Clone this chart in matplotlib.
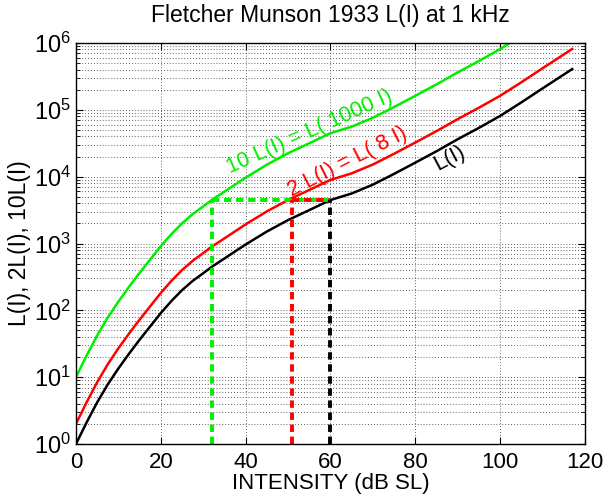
import matplotlib
matplotlib.use('Agg')
import matplotlib.pyplot as plt
import numpy as np

plt.rcParams['font.family'] = ['Liberation Sans', 'DejaVu Sans']
plt.rcParams['mathtext.fontset'] = 'custom'
plt.rcParams['mathtext.rm'] = 'Liberation Sans'
plt.rcParams['mathtext.it'] = 'Liberation Sans:italic'

# intensity (dB SL) and loudness L(I)
intensity = [0, 2.5, 5, 7.5, 10, 12.5, 15, 17.5, 20, 22.5, 25, 27.5, 30, 32, 35,
             40, 45, 50, 55, 60, 65, 70, 75, 80, 85, 90, 95, 100, 105, 110, 117]
loud = [1, 2.1, 4.2, 7.8, 13.5, 22.4, 36.3, 57.5, 91, 138, 200, 275, 359, 447,
        596, 966, 1510, 2240, 3160, 4470, 5600, 7600, 11000, 16200, 24000,
        36300, 53700, 81000, 129000, 209000, 407000]

# curves are L(I), 2 L(I) and 10 L(I)
factors = [1, 2, 10]
colors = ['k', 'r', '#00ee00']
curve_labels = ['L(I)', '2 L(I) = L( 8 I)', '10 L(I) = L( 1000 I)']

# matching intensities where each curve reaches L(60 dB)
match_x = [60, 51, 32]
match_level = 4470

fig = plt.figure(figsize=(6.03, 5.0), dpi=100)
ax = fig.add_axes([0.126, 0.112, 0.844, 0.802])

I = np.array(intensity)
L = np.array(loud)
for f, c in zip(factors, colors):
    ax.plot(I, f * L, color=c, lw=1.8)

# dashed guides
dash = (1.9, 1.2)
ax.plot([match_x[2], match_x[0]], [match_level, match_level], '--', color=colors[2], lw=2.8, dashes=dash)
ax.plot([match_x[1], match_x[0]], [match_level, match_level], '--', color=colors[1], lw=2.8, dashes=dash)
for x, c in zip(match_x, colors):
    ax.plot([x, x], [1, match_level], '--', color=c, lw=2.8, dashes=dash)

# curve labels
ax.text(55.2, 46500, curve_labels[2], color=colors[2], fontsize=15.5, rotation=24,
        ha='center', va='center', rotation_mode='anchor')
ax.text(64.0, 16600, curve_labels[1], color=colors[1], fontsize=15.5, rotation=27,
        ha='center', va='center', rotation_mode='anchor')
ax.text(88.2, 19000, curve_labels[0], color=colors[0], fontsize=15.5, rotation=28,
        ha='center', va='center', rotation_mode='anchor')

ax.set_yscale('log')
ax.set_xlim(0, 120)
ax.set_ylim(1, 1e6)
ax.set_xticks([0, 20, 40, 60, 80, 100, 120])
ax.set_yticks([1, 10, 100, 1e3, 1e4, 1e5, 1e6])
ax.tick_params(which='both', direction='in', top=True, right=True, labelsize=16)
ax.tick_params(axis='y', labelsize=17)
ax.tick_params(which='major', length=5)
ax.tick_params(which='minor', length=3)
ax.tick_params(axis='x', pad=6)
ax.grid(True, which='major', color='#303030', lw=0.6, dashes=(1, 2.5))
ax.grid(True, which='minor', axis='y', color='#303030', lw=0.6, dashes=(1, 2.5))
for s in ax.spines.values():
    s.set_linewidth(1.0)

ax.set_title('Fletcher Munson 1933 L(I) at 1 kHz', fontsize=16.5, pad=15)
ax.set_xlabel('INTENSITY (dB SL)', fontsize=16, labelpad=0)
ax.set_ylabel('L(I), 2L(I), 10L(I)', fontsize=16.5, labelpad=2)

plt.savefig('out.png', dpi=100)
